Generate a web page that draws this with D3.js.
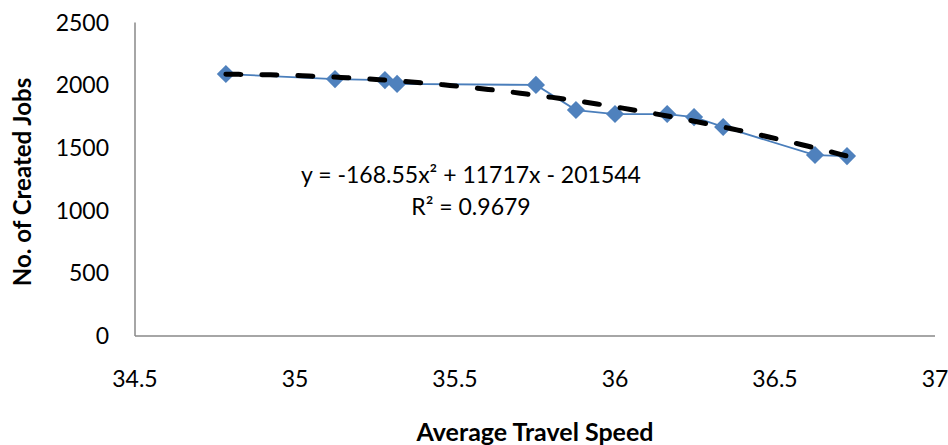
<!DOCTYPE html>
<html>
<head>
<meta charset="utf-8">
<script src="https://cdn.jsdelivr.net/npm/d3@7"></script>
<style>
  body { margin: 0; background: #fff; }
  svg text { font-family: Lato, "Open Sans", sans-serif; fill: #000; }
</style>
</head>
<body>
<svg id="chart" width="948" height="445"></svg>
<script>
// data
var speeds = [34.784, 35.125, 35.281, 35.319, 35.753, 35.878, 36.0, 36.163, 36.247, 36.338, 36.625, 36.725];
var jobs = [2089, 2049, 2041, 2010, 2002, 1802, 1770, 1770, 1746, 1667, 1443, 1435];
var xTicks = [34.5, 35, 35.5, 36, 36.5, 37];
var yTicks = [0, 500, 1000, 1500, 2000, 2500];
// trendline coefficients as printed on the chart
var trendCoef = [-168.55, 11717, -201544];
var eqLabel = "y = -168.55x² + 11717x - 201544";
var r2Label = "R² = 0.9679";

var svg = d3.select("#chart");

var x = d3.scaleLinear().domain([34.5, 37]).range([135, 935]);
var y = d3.scaleLinear().domain([0, 2500]).range([336, 22.5]);

// axes (plain lines, no tick marks)
svg.append("line")
    .attr("x1", x(34.5)).attr("x2", x(37))
    .attr("y1", y(0)).attr("y2", y(0))
    .attr("stroke", "#898989").attr("stroke-width", 1.5);
svg.append("line")
    .attr("x1", x(34.5)).attr("x2", x(34.5))
    .attr("y1", y(0)).attr("y2", y(2500))
    .attr("stroke", "#898989").attr("stroke-width", 1.5);

svg.selectAll(".ylab")
    .data(yTicks)
    .enter()
    .append("text")
    .attr("class", "ylab")
    .attr("x", 109)
    .attr("y", function (d) { return y(d) + 8 })
    .attr("text-anchor", "end")
    .style("font-size", "23px")
    .text(function (d) { return d });

svg.selectAll(".xlab")
    .data(xTicks)
    .enter()
    .append("text")
    .attr("class", "xlab")
    .attr("x", function (d) { return x(d) })
    .attr("y", 387)
    .attr("text-anchor", "middle")
    .style("font-size", "23px")
    .text(function (d) { return d });

// axis titles
svg.append("text")
    .attr("x", 535).attr("y", 441)
    .attr("text-anchor", "middle")
    .style("font-size", "25px").style("font-weight", "bold")
    .text("Average Travel Speed");
svg.append("text")
    .attr("transform", "translate(31,182) rotate(-90)")
    .attr("text-anchor", "middle")
    .style("font-size", "24px").style("font-weight", "bold")
    .text("No. of Created Jobs");

// data line
var pts = speeds.map(function (s, i) { return [s, jobs[i]] });
svg.append("path")
    .datum(pts)
    .attr("fill", "none")
    .attr("stroke", "#4a7ebb")
    .attr("stroke-width", 1.8)
    .attr("d", d3.line().x(function (d) { return x(d[0]) }).y(function (d) { return y(d[1]) }));

// markers
svg.selectAll(".pt")
    .data(pts)
    .enter()
    .append("path")
    .attr("class", "pt")
    .attr("transform", function (d) { return "translate(" + x(d[0]) + "," + y(d[1]) + ")" })
    .attr("d", d3.symbol().type(d3.symbolDiamond2).size(210))
    .attr("fill", "#4f81bd");

// polynomial trendline, evaluated along the x range of the data
function trend(v) { return trendCoef[0] * v * v + trendCoef[1] * v + trendCoef[2] }
var tx = d3.range(speeds[0], speeds[speeds.length - 1], 0.02).concat([speeds[speeds.length - 1]]);
svg.append("path")
    .datum(tx)
    .attr("fill", "none")
    .attr("stroke", "#000")
    .attr("stroke-width", 5)
    .attr("stroke-linecap", "round")
    .attr("stroke-dasharray", "15,21")
    .attr("d", d3.line().x(function (d) { return x(d) }).y(function (d) { return y(trend(d)) }));

// equation label
svg.append("text")
    .attr("x", 471).attr("y", 183)
    .attr("text-anchor", "middle")
    .style("font-size", "23px")
    .text(eqLabel);
svg.append("text")
    .attr("x", 471).attr("y", 215)
    .attr("text-anchor", "middle")
    .style("font-size", "23px")
    .text(r2Label);
</script>
</body>
</html>
